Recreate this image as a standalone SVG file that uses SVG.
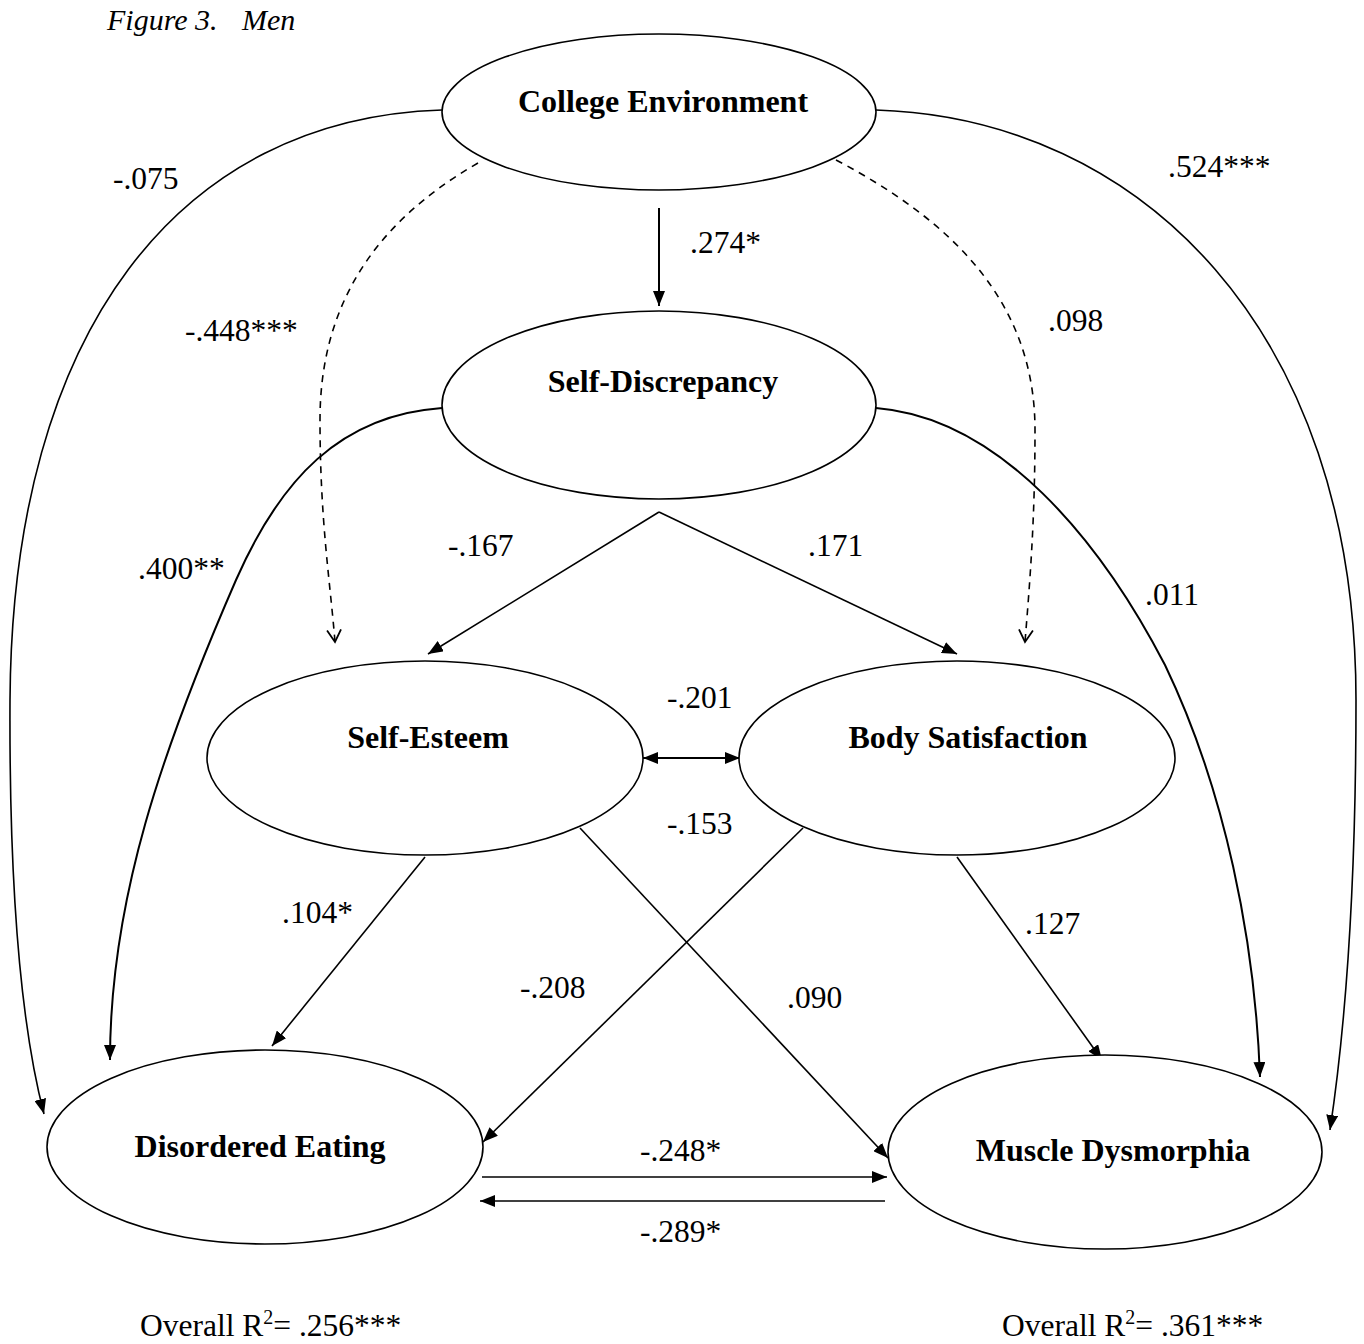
<svg xmlns="http://www.w3.org/2000/svg" width="1364" height="1344" viewBox="0 0 1364 1344">
<style>
.node{fill:#fff;stroke:#000;stroke-width:1.6}
.nl{font-family:"Liberation Serif",serif;font-weight:bold;font-size:32px;text-anchor:middle;fill:#000}
.lb{font-family:"Liberation Serif",serif;font-size:31.5px;fill:#000}
.ti{font-family:"Liberation Serif",serif;font-style:italic;font-size:30px;fill:#000}
.c{fill:none;stroke:#000;stroke-width:1.6}
.cd{fill:none;stroke:#000;stroke-width:1.6;stroke-dasharray:7,6}
.thick{stroke-width:2}
</style>
<defs>
<marker id="tri" markerUnits="userSpaceOnUse" markerWidth="16" markerHeight="12" refX="15" refY="6" orient="auto">
<path d="M0,0 L15,6 L0,12 z" fill="#000"/>
</marker>
<marker id="triS" markerUnits="userSpaceOnUse" markerWidth="16" markerHeight="12" refX="1" refY="6" orient="auto">
<path d="M16,0 L1,6 L16,12 z" fill="#000"/>
</marker>
<marker id="vee" markerUnits="userSpaceOnUse" markerWidth="16" markerHeight="16" refX="13" refY="8" orient="auto">
<path d="M1,1 L13,8 L1,15" fill="none" stroke="#000" stroke-width="1.8"/>
</marker>
</defs>
<text class="ti" x="107" y="30">Figure 3.</text>
<text class="ti" x="242" y="30">Men</text>
<g id="connectors">
<line class="c thick" x1="659" y1="208" x2="659" y2="306" marker-end="url(#tri)"/>
<path class="cd" d="M478,163 C370,225 320,310 320,420 C320,520 330,580 335,642" marker-end="url(#vee)"/>
<path class="cd" d="M836,160 C950,220 1035,300 1035,430 C1035,520 1030,580 1025,642" marker-end="url(#vee)"/>
<path class="c" d="M442,110 C180,118 12,330 10,700 C9,900 22,1030 44,1114" marker-end="url(#tri)"/>
<path class="c" d="M876,110 C1140,118 1356,330 1356,700 C1356,900 1345,1030 1330,1130" marker-end="url(#tri)"/>
<path class="c thick" d="M442,408 C340,415 280,480 236,580 C162,750 110,900 110,1060" marker-end="url(#tri)"/>
<path class="c thick" d="M876,408 C1000,418 1100,540 1165,665 C1225,790 1255,940 1260,1077" marker-end="url(#tri)"/>
<line class="c" x1="659" y1="512" x2="428" y2="654" marker-end="url(#tri)"/>
<line class="c" x1="659" y1="512" x2="957" y2="654" marker-end="url(#tri)"/>
<line class="c thick" x1="643" y1="758" x2="740" y2="758" marker-start="url(#triS)" marker-end="url(#tri)"/>
<line class="c" x1="425" y1="857" x2="272" y2="1046" marker-end="url(#tri)"/>
<line class="c" x1="580" y1="828" x2="888" y2="1158" marker-end="url(#tri)"/>
<line class="c" x1="803" y1="828" x2="483" y2="1142" marker-end="url(#tri)"/>
<line class="c" x1="957" y1="857" x2="1102" y2="1060" marker-end="url(#tri)"/>
<line class="c" x1="482" y1="1177" x2="887" y2="1177" marker-end="url(#tri)"/>
<line class="c" x1="885" y1="1201" x2="480" y2="1201" marker-end="url(#tri)"/>
</g>
<g id="college-environment"><ellipse class="node" cx="659" cy="112" rx="217" ry="78"/><text class="nl" x="663" y="112">College Environment</text></g>
<g id="self-discrepancy"><ellipse class="node" cx="659" cy="405" rx="217" ry="94"/><text class="nl" x="663" y="392">Self-Discrepancy</text></g>
<g id="self-esteem"><ellipse class="node" cx="425" cy="758" rx="218" ry="97"/><text class="nl" x="428" y="748">Self-Esteem</text></g>
<g id="body-satisfaction"><ellipse class="node" cx="957" cy="758" rx="218" ry="97"/><text class="nl" x="968" y="748">Body Satisfaction</text></g>
<g id="disordered-eating"><ellipse class="node" cx="265" cy="1147" rx="218" ry="97"/><text class="nl" x="260" y="1157">Disordered Eating</text></g>
<g id="muscle-dysmorphia"><ellipse class="node" cx="1105" cy="1152" rx="217" ry="97"/><text class="nl" x="1113" y="1161">Muscle Dysmorphia</text></g>
<g id="labels">
<text class="lb" x="690" y="253">.274*</text>
<text class="lb" x="113" y="189">-.075</text>
<text class="lb" x="1168" y="177">.524***</text>
<text class="lb" x="185" y="341">-.448***</text>
<text class="lb" x="1048" y="331">.098</text>
<text class="lb" x="138" y="579">.400**</text>
<text class="lb" x="448" y="556">-.167</text>
<text class="lb" x="808" y="556">.171</text>
<text class="lb" x="1145" y="605">.011</text>
<text class="lb" x="667" y="708">-.201</text>
<text class="lb" x="667" y="834">-.153</text>
<text class="lb" x="282" y="923">.104*</text>
<text class="lb" x="1025" y="934">.127</text>
<text class="lb" x="520" y="998">-.208</text>
<text class="lb" x="787" y="1008">.090</text>
<text class="lb" x="640" y="1161">-.248*</text>
<text class="lb" x="640" y="1242">-.289*</text>
<text class="lb" x="140" y="1336">Overall R<tspan dy="-12" font-size="20">2</tspan><tspan dy="12">= .256***</tspan></text>
<text class="lb" x="1002" y="1336">Overall R<tspan dy="-12" font-size="20">2</tspan><tspan dy="12">= .361***</tspan></text>
</g>
</svg>
